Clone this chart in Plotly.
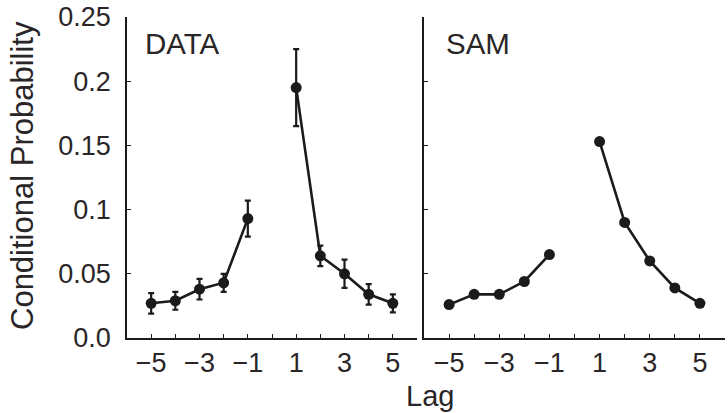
import plotly.graph_objects as go
from plotly.subplots import make_subplots

lags = [-5, -4, -3, -2, -1, 1, 2, 3, 4, 5]
data_vals = [0.027, 0.029, 0.038, 0.043, 0.093, 0.195, 0.064, 0.050, 0.034, 0.027]
data_err = [0.008, 0.007, 0.008, 0.007, 0.014, 0.030, 0.008, 0.011, 0.008, 0.007]
sam_vals = [0.026, 0.034, 0.034, 0.044, 0.065, 0.153, 0.090, 0.060, 0.039, 0.027]

ytick_vals = [0, 0.05, 0.1, 0.15, 0.2, 0.25]
ytick_text = ["0.0", "0.05", "0.1", "0.15", "0.2", "0.25"]
xtick_vals = [-5, -4, -3, -2, -1, 0, 1, 2, 3, 4, 5]
xtick_text = ["\u22125", "", "\u22123", "", "\u22121", "", "1", "", "3", "", "5"]

INK = "#1c1a1b"
TXT = "#2a2627"
FONT = "Liberation Sans, Arial, sans-serif"

fig = make_subplots(rows=1, cols=2, horizontal_spacing=0.0)

def add_series(col, vals, err=None):
    for sel in (lambda v: v < 0, lambda v: v > 0):
        xs = [x for x in lags if sel(x)]
        ys = [y for x, y in zip(lags, vals) if sel(x)]
        kw = {}
        if err is not None:
            es = [e for x, e in zip(lags, err) if sel(x)]
            kw["error_y"] = dict(type="data", array=es, visible=True,
                                 color=INK, thickness=2.2, width=3)
        fig.add_trace(go.Scatter(x=xs, y=ys, mode="lines+markers",
                                 line=dict(color=INK, width=2.6),
                                 marker=dict(color=INK, size=11),
                                 showlegend=False, **kw), row=1, col=col)

add_series(1, data_vals, data_err)
add_series(2, sam_vals)

left_w = (417 - 127) / 598
right_start = (424 - 127) / 598

fig.update_layout(
    width=728, height=413,
    margin=dict(l=127, r=3, t=17, b=75),
    paper_bgcolor="white", plot_bgcolor="white",
    font=dict(family=FONT, size=27, color=TXT),
)

common_x = dict(range=[-6, 6], tickvals=xtick_vals, ticktext=xtick_text,
                ticks="inside", ticklen=4, tickwidth=1.2, tickcolor=INK,
                showline=True, linecolor=INK, linewidth=1.6, mirror=False,
                showgrid=False, zeroline=False, ticklabelstandoff=0,
                tickfont=dict(size=27, color=TXT, family=FONT))
fig.update_xaxes(domain=[0, left_w], row=1, col=1, **common_x)
fig.update_xaxes(domain=[right_start, 1], row=1, col=2, **common_x)

common_y = dict(range=[0, 0.25], tickvals=ytick_vals, ticks="inside",
                ticklen=4, tickwidth=1.2, tickcolor=INK,
                showline=True, linecolor=INK, linewidth=1.6,
                showgrid=False, zeroline=False)
fig.update_yaxes(row=1, col=1, ticktext=ytick_text, ticklabelstandoff=9,
                 tickfont=dict(size=27, color=TXT, family=FONT), **common_y)
fig.update_yaxes(row=1, col=2, showticklabels=False, **common_y)

fig.add_annotation(text="DATA", xref="paper", yref="paper",
                   x=(143 - 127) / 598, y=(338 - 43) / 321,
                   xanchor="left", yanchor="middle", showarrow=False,
                   font=dict(size=29.5, color=TXT, family=FONT))
fig.add_annotation(text="SAM", xref="paper", yref="paper",
                   x=(444 - 127) / 598, y=(338 - 43) / 321,
                   xanchor="left", yanchor="middle", showarrow=False,
                   font=dict(size=29.5, color=TXT, family=FONT))
fig.add_annotation(text="Lag", xref="paper", yref="paper",
                   x=(430 - 127) / 598, y=(338 - 396) / 321,
                   xanchor="center", yanchor="middle", showarrow=False,
                   font=dict(size=29, color=TXT, family=FONT))
fig.add_annotation(text="Conditional Probability", xref="paper", yref="paper",
                   x=(22 - 127) / 598, y=(338 - 176) / 321, textangle=-90,
                   xanchor="center", yanchor="middle", showarrow=False,
                   font=dict(size=31, color=TXT, family=FONT))

fig.write_html("out.html")
